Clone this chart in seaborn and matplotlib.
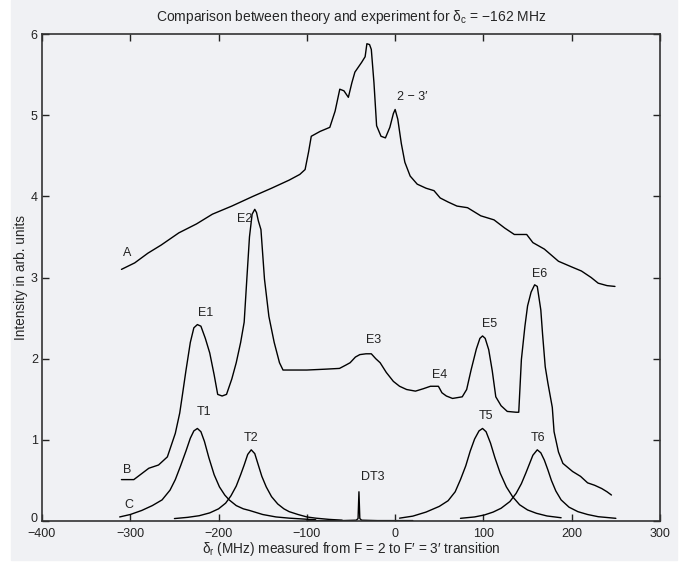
import numpy as np
import pandas as pd
import matplotlib
matplotlib.use("Agg")
import matplotlib.pyplot as plt
import matplotlib.transforms as mtransforms
from matplotlib.patches import Rectangle
import seaborn as sns

# Curve A (experiment, upper trace)
a_x = [-310, -295, -280, -265, -245, -225, -207, -185, -161, -140, -120, -108, -102, -98, -95,
       -85, -74, -68, -62.7, -58, -53, -49, -45.6, -38, -34, -32, -29, -27, -24, -21, -16, -11,
       -6, -2, 0, 3, 7, 11, 17, 25, 35, 44, 51, 60, 70, 82, 97, 112, 124, 135, 149, 156, 169,
       185, 200, 211, 222, 230, 240, 249]
a_y = [3.10, 3.18, 3.30, 3.40, 3.55, 3.66, 3.78, 3.88, 4.00, 4.10, 4.20, 4.27, 4.33, 4.55, 4.74,
       4.80, 4.85, 5.05, 5.32, 5.30, 5.22, 5.40, 5.53, 5.65, 5.72, 5.88, 5.87, 5.81, 5.40, 4.87,
       4.74, 4.72, 4.85, 5.02, 5.07, 4.95, 4.65, 4.42, 4.25, 4.15, 4.10, 4.07, 3.98, 3.93, 3.88,
       3.86, 3.76, 3.71, 3.61, 3.53, 3.53, 3.43, 3.35, 3.20, 3.13, 3.08, 3.00, 2.93, 2.90, 2.89]

# Curve B (experiment, middle trace)
b_x = [-310, -296, -279, -268, -258, -249, -244, -241, -237, -232, -228, -224, -220, -215, -210,
       -205, -201, -196, -191, -185, -180, -175, -171, -168, -165, -162, -159, -157, -155, -152,
       -148, -143, -137, -131, -127, -115, -100, -80, -63, -56, -51, -45, -40, -33, -27, -22,
       -17, -10, -2, 5, 13, 23, 32, 40, 49, 53, 58, 65, 76, 81, 86, 92, 96, 99, 102, 106, 110,
       114, 120, 127, 137, 140, 143, 147, 150, 154, 158, 161, 165, 167, 170, 173, 178, 180, 185,
       190, 201, 210, 218, 226, 234, 240, 245]
b_y = [0.51, 0.51, 0.65, 0.69, 0.79, 1.08, 1.33, 1.55, 1.85, 2.20, 2.38, 2.42, 2.40, 2.25, 2.07,
       1.80, 1.56, 1.54, 1.56, 1.75, 1.95, 2.20, 2.45, 2.98, 3.50, 3.78, 3.84, 3.80, 3.70, 3.59,
       2.98, 2.52, 2.20, 1.95, 1.86, 1.86, 1.86, 1.87, 1.88, 1.92, 1.95, 2.02, 2.05, 2.06, 2.06,
       2.00, 1.95, 1.83, 1.72, 1.66, 1.62, 1.60, 1.63, 1.66, 1.66, 1.58, 1.54, 1.51, 1.53, 1.62,
       1.86, 2.12, 2.25, 2.28, 2.25, 2.11, 1.85, 1.53, 1.42, 1.35, 1.34, 1.34, 1.99, 2.40, 2.65,
       2.82, 2.91, 2.89, 2.60, 2.30, 1.90, 1.70, 1.40, 1.10, 0.85, 0.71, 0.61, 0.55, 0.47, 0.44,
       0.40, 0.36, 0.32]

# Curve C (theory peaks)
t1_x = [-312, -300, -287, -275, -264, -255, -249, -243, -237, -232, -228, -224, -220, -216, -211,
        -205, -199, -193, -188, -180, -172, -165, -150, -135, -120, -105, -90]
t1_y = [0.05, 0.08, 0.13, 0.19, 0.26, 0.38, 0.51, 0.68, 0.86, 1.02, 1.11, 1.14, 1.10, 0.98, 0.78,
        0.57, 0.42, 0.32, 0.26, 0.19, 0.15, 0.13, 0.08, 0.05, 0.035, 0.025, 0.015]

t2_x = [-250, -235, -222, -210, -200, -192, -186, -180, -175, -171, -167, -163, -159, -155, -151,
        -146, -140, -133, -126, -120, -110, -100, -90, -75, -60]
t2_y = [0.03, 0.045, 0.065, 0.10, 0.15, 0.22, 0.31, 0.43, 0.57, 0.69, 0.82, 0.877, 0.83, 0.69,
        0.55, 0.42, 0.30, 0.21, 0.15, 0.115, 0.08, 0.05, 0.035, 0.02, 0.01]

t5_x = [5, 20, 35, 50, 60, 68, 74, 80, 85, 90, 95, 99, 103, 108, 113, 119, 126, 133, 141, 150,
        160, 172, 188]
t5_y = [0.035, 0.06, 0.11, 0.18, 0.25, 0.36, 0.51, 0.68, 0.86, 1.01, 1.11, 1.14, 1.10, 0.96, 0.78,
        0.59, 0.42, 0.30, 0.20, 0.136, 0.095, 0.062, 0.04]

t6_x = [74, 90, 101, 111, 120, 130, 137, 143, 148, 152, 156, 161, 165, 169, 173, 177, 182, 188,
        197, 207, 218, 230, 250]
t6_y = [0.033, 0.05, 0.074, 0.11, 0.157, 0.24, 0.34, 0.46, 0.59, 0.70, 0.81, 0.877, 0.84, 0.75,
        0.63, 0.50, 0.37, 0.26, 0.17, 0.115, 0.08, 0.053, 0.033]

dt3_x = [-100, -60, -44, -42, -41, -40, -38, -20, 20]
dt3_y = [0.005, 0.005, 0.01, 0.03, 0.36, 0.03, 0.01, 0.005, 0.005]

# labels on the curves
label_text = ["A", "B", "C", "E1", "E2", "E3", "E4", "E5", "E6", "T1", "T2", "T5", "T6", "DT3", "2 \u2212 3\u2032"]
label_x = [-304, -304, -302, -215, -171, -25, 50, 107, 164, -217, -163, 103, 162, -25, 19]
label_y = [3.30, 0.63, 0.20, 2.56, 3.72, 2.23, 1.80, 2.43, 3.04, 1.34, 1.02, 1.29, 1.02, 0.54, 5.22]

x_ticks = [-400, -300, -200, -100, 0, 100, 200, 300]
y_ticks = [0, 1, 2, 3, 4, 5, 6]

bg = "#f0f1f4"

sns.set_theme(style="ticks")
plt.rcParams["font.family"] = ["Liberation Sans", "DejaVu Sans"]
plt.rcParams["mathtext.fontset"] = "custom"
plt.rcParams["mathtext.rm"] = "Liberation Sans"
plt.rcParams["mathtext.it"] = "Liberation Sans"

fig = plt.figure(figsize=(6.99, 5.63), dpi=100)
fig.patch.set_facecolor("white")
fig.patches.append(Rectangle((11 / 699, 3 / 563), 666 / 699, 560 / 563,
                             transform=fig.transFigure, color=bg, zorder=-5))
ax = fig.add_axes([42 / 699, 1 - 521 / 563, 618 / 699, 487 / 563])
ax.set_facecolor(bg)

curves = [(a_x, a_y), (b_x, b_y), (t1_x, t1_y), (t2_x, t2_y),
          (t5_x, t5_y), (t6_x, t6_y), (dt3_x, dt3_y)]
for cx, cy in curves:
    df = pd.DataFrame({"x": cx, "y": cy})
    sns.lineplot(data=df, x="x", y="y", sort=False, estimator=None,
                 color="black", linewidth=1.0, ax=ax)

for t, x, y in zip(label_text, label_x, label_y):
    ax.text(x, y, t, ha="center", va="center", fontsize=9, color="#222222")

ax.set_xlim(-400, 300)
ax.set_ylim(0, 6)
ax.set_xticks(x_ticks)
ax.set_yticks(y_ticks)
ax.tick_params(direction="in", length=5, width=1, top=True, right=True,
               labelsize=9, colors="#222222")
ax.tick_params(axis="x", pad=5)
ax.tick_params(axis="y", pad=3)
for s in ax.spines.values():
    s.set_visible(True)
    s.set_linewidth(1.2)
    s.set_color("#333333")

# lift the "0" y label a little, as in the original corner
fig.canvas.draw()
ylabels = ax.get_yticklabels()
ylabels[0].set_transform(ylabels[0].get_transform() +
                         mtransforms.ScaledTranslation(0, 4 / 100, fig.dpi_scale_trans))

ax.set_xlabel("$\\delta_r$ (MHz) measured from F = 2 to F\u2032 = 3\u2032 transition",
              fontsize=9.8, labelpad=0)
ax.set_ylabel("Intensity in arb. units", fontsize=9.8, labelpad=2)
ax.set_title("Comparison between theory and experiment for $\\delta_c$ = \u2212162 MHz",
             fontsize=10, pad=9)

fig.savefig("out.png", dpi=100)
